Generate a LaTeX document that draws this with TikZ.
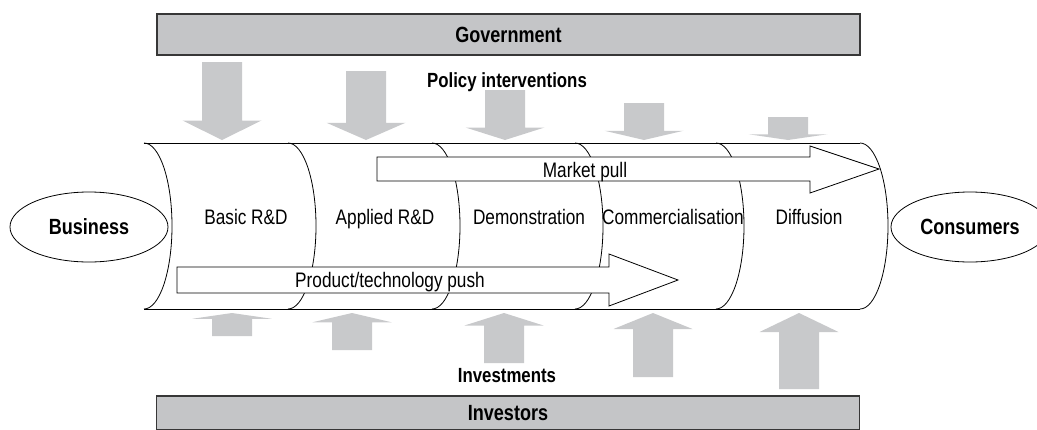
\documentclass[tikz,border=0pt]{standalone}
\usepackage{fontspec}
\setmainfont{Liberation Sans}[FakeStretch=0.82]
\usetikzlibrary{shapes.geometric}

\definecolor{barfill}{RGB}{196,197,199}
\definecolor{arrowfill}{RGB}{200,201,203}
\definecolor{barline}{RGB}{55,55,55}

\tikzset{
  bar/.style={draw=barline, line width=1.5pt, fill=barfill, minimum width=703pt,
    inner sep=0pt, font=\bfseries\fontsize{22}{26}\selectfont},
  party/.style={ellipse, draw, line width=0.8pt, minimum width=158pt, minimum height=70pt,
    inner sep=0pt, font=\bfseries\fontsize{22}{26}\selectfont},
  flowlabel/.style={anchor=base, inner sep=0pt, font=\bfseries\fontsize{20.5}{24}\selectfont},
  stage/.style={anchor=base, inner sep=0pt, font=\fontsize{21}{24}\selectfont},
  boxarrow/.style={draw, fill=white, line width=0.8pt, line join=miter},
  grayarrow/.style={fill=arrowfill},
  divider/.style={line width=0.8pt}
}

\begin{document}
\begin{tikzpicture}[x=1pt, y=-1pt]
        \useasboundingbox (0,0) rectangle (1037,429);

        \node (gov) [bar, minimum height=41pt] at (508.5,34.5) {Government};
        \node (inv) [bar, minimum height=34pt] at (508,413)    {Investors};

        \node (policy) [flowlabel] at (507,87)  {Policy interventions};
        \node (invest) [flowlabel] at (507,382) {Investments};

        \foreach \x/\t in {222/62, 366/71, 505/90, 644/103, 788/117} {
          \pgfmathsetmacro{\h}{140-0.25*(140-\t)}
          \fill [grayarrow] (\x-20,\t) -- (\x+20,\t) -- (\x+20,\h) -- (\x+39.5,\h)
            -- (\x,140) -- (\x-39.5,\h) -- (\x-20,\h) -- cycle;
        }

        \foreach \x/\b in {232/336, 352/350, 504/363, 653/377, 799/389} {
          \pgfmathsetmacro{\h}{313+0.25*(\b-313)}
          \fill [grayarrow] (\x-20,\b) -- (\x+20,\b) -- (\x+20,\h) -- (\x+39.5,\h)
            -- (\x,313) -- (\x-39.5,\h) -- (\x-20,\h) -- cycle;
        }

        \draw [divider] (144,143) -- (860,143);
        \draw [divider] (144,309) -- (860,309);
        \foreach \x in {144, 288, 432, 575, 716, 860}
          \draw [divider] (\x,143) arc [start angle=-90, end angle=90, x radius=28, y radius=83];

        \draw [boxarrow] (377,157) -- (810,157) -- (810,146) -- (879,169)
          -- (810,193) -- (810,181) -- (377,181) -- cycle;
        \draw [boxarrow] (177,267) -- (609,267) -- (609,254) -- (678,280)
          -- (609,306) -- (609,293) -- (177,293) -- cycle;

        \node (basic)   [stage] at (246,224) {Basic R\&D};
        \node (applied) [stage] at (385,224) {Applied R\&D};
        \node (demo)    [stage] at (529,224) {Demonstration};
        \node (comm)    [stage] at (673,224) {Commercialisation};
        \node (diff)    [stage] at (809,224) {Diffusion};

        \node (pull) [stage] at (585,177) {Market pull};
        \node (push) [stage] at (390,287) {Product/technology push};

        \node (business)  [party] at (89,227)  {Business};
        \node (consumers) [party] at (970,227) {Consumers};
\end{tikzpicture}
\end{document}
